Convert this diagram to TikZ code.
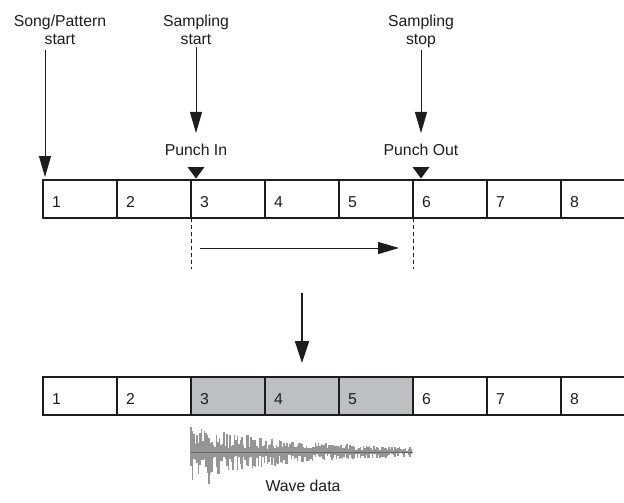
\documentclass[tikz,border=0pt]{standalone}
\usepackage{fontspec}
\setmainfont{Liberation Sans}
\usetikzlibrary{arrows.meta}
\definecolor{cellgray}{RGB}{190,191,193}
\definecolor{wavegray}{RGB}{150,150,150}
\definecolor{inkc}{RGB}{30,28,29}
\begin{document}
\begin{tikzpicture}[x=1pt,y=-1pt,
  lbl/.style={font=\fontsize{15.8}{18}\selectfont, align=center, inner sep=0pt, text=inkc},
  numlbl/.style={font=\fontsize{15.8}{18}\selectfont, inner sep=0pt, anchor=base west, text=inkc},
  cell/.style={draw=inkc, line width=1.3pt, minimum width=74pt, minimum height=38pt, inner sep=0pt, outer sep=0pt, anchor=north west},
  shaded/.style={cell, fill=cellgray},
  arr/.style={draw=inkc, line width=1pt, -{Triangle[length=21pt,width=12pt]}},
  bigarr/.style={draw=inkc, line width=2pt, -{Triangle[length=22pt,width=14pt]}},
  punch/.style={fill=inkc},
  dashline/.style={draw=inkc, line width=1pt, dash pattern=on 4pt off 3pt},
  wavec/.style={draw=wavegray, line width=1.1pt}
]
\useasboundingbox (0,0) rectangle (624,503);
\clip (0,0) rectangle (624,503);

% top labels
\node[lbl] (song) at (60,30) {Song/Pattern\\start};
\node[lbl] (sstart) at (196,30) {Sampling\\start};
\node[lbl] (sstop) at (421,31) {Sampling\\stop};
\node[lbl] (pin) at (196,150) {Punch In};
\node[lbl] (pout) at (421,150) {Punch Out};

% top row
\foreach \i in {1,...,8} {
  \node[cell] (t\i) at ({43+74*(\i-1)},180) {};
  \node[numlbl] (tn\i) at ({43+74*(\i-1)+9},207.5) {\i};
}

% bottom row
\foreach \i in {1,2,6,7,8} {
  \node[cell] (b\i) at ({43+74*(\i-1)},377) {};
}
\foreach \i in {3,4,5} {
  \node[shaded] (b\i) at ({43+74*(\i-1)},377) {};
}
\foreach \i in {1,...,8} {
  \node[numlbl] (bn\i) at ({43+74*(\i-1)+9},404.5) {\i};
}

% arrows from top labels
\coordinate (songA) at (45,50);
\draw[arr, shorten >=3pt] (songA) -- (songA |- t1.north);
\draw[arr, shorten <=2pt, shorten >=11pt] (sstart.south) -- (pin.north);
\draw[arr, shorten <=2pt, shorten >=11pt] (sstop.south) -- (pout.north);

% punch markers
\fill[punch] (196,178.5) -- (187.5,167) -- (204.5,167) -- cycle;
\fill[punch] (421,178.5) -- (412.5,167) -- (429.5,167) -- cycle;

% dashed guides and span arrow
\coordinate (d1) at (191,269);
\coordinate (d2) at (413,269);
\draw[dashline] (t3.south west) -- (d1);
\draw[dashline] (t6.south west) -- (d2);
\coordinate (h1) at (200,248);
\coordinate (h2) at (399,248);
\draw[arr] (h1) -- (h2);

% big down arrow
\coordinate (bigA) at (302,293);
\draw[bigarr] (bigA) -- (302,363);

% wave data
\pgfmathsetseed{17}
\foreach \i in {0,...,147} {
  \pgfmathsetmacro{\xx}{191+1.5*\i}
  \pgfmathsetmacro{\env}{2+27*exp(-(\xx-191)/100)}
  \pgfmathsetmacro{\up}{\env*(0.2+0.8*rnd)}
  \pgfmathsetmacro{\dn}{\env*(0.2+0.8*rnd)}
  \draw[wavec] (\xx,452-\up) -- (\xx,452+\dn);
}
\draw[wavec, line width=1.4pt] (209,446) -- (209,484);
\draw[draw=gray!80!black, line width=0.8pt] (191,452) -- (413,452);
\node[lbl] (wave) at (303,486) {Wave data};
\end{tikzpicture}
\end{document}
